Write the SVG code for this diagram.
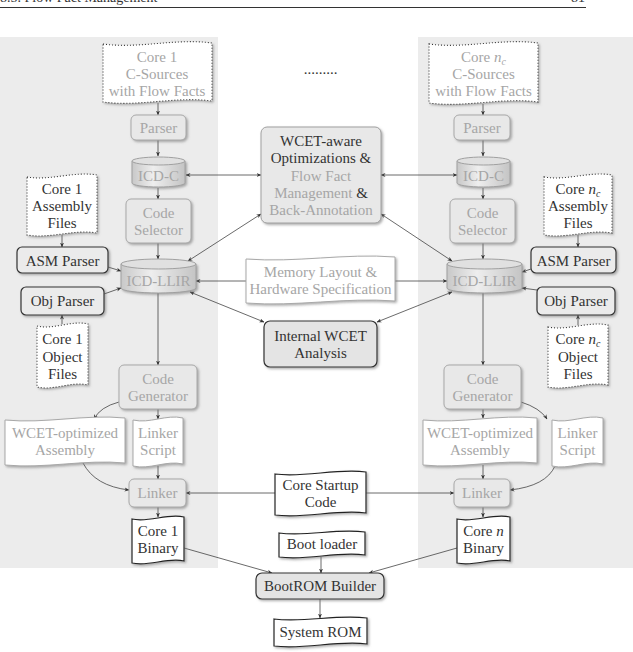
<svg xmlns="http://www.w3.org/2000/svg" width="633" height="652" viewBox="0 0 633 652">
<style>
text{font-family:"Liberation Serif","Times New Roman",serif;font-size:15px;text-anchor:middle}
.g{fill:#a6a6a6}
.d{fill:#333}
.panel{fill:#ececec}
.tool{fill:#e8e8e8;stroke:#a8a8a8;stroke-width:1;filter:url(#sh)}
.dtool{fill:#ebebeb;stroke:#333;stroke-width:1.2;filter:url(#sh)}
.ftool{fill:#e4e4e4;stroke:#333;stroke-width:1.2;filter:url(#sh)}
.cyl{fill:url(#cg);stroke:#a0a0a0;stroke-width:1;filter:url(#sh)}
.cyltop{fill:#e0e0e0;stroke:#a0a0a0;stroke-width:1}
.docdot{fill:#fff;stroke:#333;stroke-width:1.1;stroke-dasharray:1 2;filter:url(#sh)}
.docg{fill:#fff;stroke:#a8a8a8;stroke-width:1;filter:url(#sh)}
.docb{fill:#fff;stroke:#222;stroke-width:1.2;filter:url(#sh)}
.c{fill:none;stroke:#444;stroke-width:0.8;marker-end:url(#ah)}
.cc{fill:none;stroke:#444;stroke-width:0.8;marker-end:url(#ah);marker-start:url(#ah)}
</style>
<defs>
<filter id="sh" x="-20%" y="-20%" width="140%" height="140%">
<feDropShadow dx="1.5" dy="1.5" stdDeviation="1" flood-color="#777" flood-opacity="0.6"/>
</filter>
<linearGradient id="cg" x1="0" y1="0" x2="1" y2="0">
<stop offset="0" stop-color="#c8c8c8"/>
<stop offset="0.4" stop-color="#eeeeee"/>
<stop offset="1" stop-color="#c4c4c4"/>
</linearGradient>
<marker id="ah" viewBox="0 0 10 10" refX="9" refY="5" markerWidth="5" markerHeight="5" markerUnits="userSpaceOnUse" orient="auto-start-reverse">
<path d="M0,1 L10,5 L0,9 L3,5 z" fill="#333"/>
</marker>
</defs>

<!-- header -->
<g id="header">
<text x="0" y="2" style="text-anchor:start;font-size:14px" class="d">8.5. Flow Fact Management</text>
<text x="585" y="2" style="text-anchor:end;font-size:14px" class="d">81</text>
<line x1="0" y1="7.5" x2="586" y2="7.5" stroke="#333" stroke-width="1"/>
</g>

<!-- panels -->
<rect class="panel" x="0" y="37" width="218" height="531"/>
<rect class="panel" x="418" y="37" width="215" height="531"/>

<!-- connectors -->
<g id="connectors">
<line class="c" x1="158" y1="103" x2="158" y2="115"/>
<line class="c" x1="158" y1="140" x2="158" y2="156"/>
<line class="c" x1="158" y1="188" x2="158" y2="199"/>
<line class="c" x1="158" y1="243" x2="158" y2="259"/>
<line class="c" x1="62" y1="235" x2="62" y2="247"/>
<line class="c" x1="62" y1="324" x2="62" y2="315"/>
<line class="c" x1="108" y1="267" x2="121" y2="271"/>
<line class="c" x1="104" y1="294" x2="121" y2="288"/>
<line class="cc" x1="186" y1="175" x2="261" y2="175"/>
<line class="cc" x1="188" y1="261" x2="261" y2="214"/>
<line class="c" x1="246" y1="281" x2="196" y2="281"/>
<line class="cc" x1="190" y1="292" x2="264" y2="322"/>
<line class="c" x1="158" y1="293" x2="158" y2="365"/>
<path class="c" d="M119,402 Q100,407 94,419"/>
<line class="c" x1="158" y1="409" x2="158" y2="419"/>
<path class="c" d="M83,463 Q95,486 129,490"/>
<line class="c" x1="158" y1="466" x2="158" y2="479"/>
<line class="c" x1="275" y1="493" x2="186" y2="493"/>
<line class="c" x1="158" y1="507" x2="158" y2="517"/>
<line class="c" x1="184" y1="548" x2="272" y2="573"/>

<line class="c" x1="483" y1="104" x2="483" y2="115"/>
<line class="c" x1="483" y1="140" x2="483" y2="156"/>
<line class="c" x1="483" y1="188" x2="483" y2="199"/>
<line class="c" x1="483" y1="243" x2="483" y2="259"/>
<line class="c" x1="578" y1="235" x2="578" y2="247"/>
<line class="c" x1="578" y1="325" x2="578" y2="315"/>
<line class="c" x1="531" y1="269" x2="522" y2="272"/>
<line class="c" x1="537" y1="290" x2="522" y2="288"/>
<line class="cc" x1="381" y1="175" x2="457" y2="175"/>
<line class="cc" x1="452" y1="261" x2="381" y2="214"/>
<line class="c" x1="395" y1="281" x2="447" y2="281"/>
<line class="cc" x1="452" y1="292" x2="377" y2="322"/>
<line class="c" x1="483" y1="293" x2="483" y2="365"/>
<line class="c" x1="483" y1="409" x2="483" y2="418"/>
<path class="c" d="M521,402 Q540,408 547,419"/>
<line class="c" x1="483" y1="465" x2="483" y2="479"/>
<path class="c" d="M555,466 Q546,486 510,490"/>
<line class="c" x1="366" y1="493" x2="454" y2="493"/>
<line class="c" x1="483" y1="507" x2="483" y2="517"/>
<line class="c" x1="457" y1="548" x2="369" y2="573"/>

<line class="c" x1="321" y1="557" x2="321" y2="573"/>
<line class="c" x1="320" y1="599" x2="320" y2="618"/>
</g>

<!-- LEFT COLUMN -->
<g id="src1">
<path class="docdot" d="M103,44 C139,49 176,38 212,43 L212,101 C176,96 139,107 103,102 Z"/>
<text class="g" x="157" y="62">Core 1</text>
<text class="g" x="157" y="79">C-Sources</text>
<text class="g" x="157" y="96">with Flow Facts</text>
</g>
<g id="parser1">
<rect class="tool" x="131" y="115" width="55" height="25" rx="5"/>
<text class="g" x="158.5" y="133">Parser</text>
</g>
<g id="icdc1">
<path class="cyl" d="M132,161 L132,183 A26.5,4 0 0 0 185,183 L185,161 Z"/>
<ellipse class="cyltop" cx="158.5" cy="161" rx="26.5" ry="4"/>
<text class="g" x="158.5" y="181">ICD-C</text>
</g>
<g id="cs1">
<rect class="tool" x="126" y="199" width="65" height="44" rx="5"/>
<text class="g" x="158.5" y="218">Code</text>
<text class="g" x="158.5" y="235">Selector</text>
</g>
<g id="asmfiles1">
<path class="docdot" d="M27,177 C50,181 74,171 97,175 L97,233 C74,229 50,239 27,235 Z"/>
<text class="d" x="62" y="194">Core 1</text>
<text class="d" x="62" y="211">Assembly</text>
<text class="d" x="62" y="228">Files</text>
</g>
<g id="asmp1">
<rect class="dtool" x="17" y="247" width="91" height="26" rx="5"/>
<text class="d" x="62.5" y="266">ASM Parser</text>
</g>
<g id="llir1">
<path class="cyl" d="M121,264 L121,288 A37.5,5 0 0 0 196,288 L196,264 Z"/>
<ellipse class="cyltop" cx="158.5" cy="264" rx="37.5" ry="5"/>
<text class="g" x="158.5" y="286">ICD-LLIR</text>
</g>
<g id="objp1">
<rect class="dtool" x="21" y="287" width="83" height="28" rx="5"/>
<text class="d" x="62.5" y="306">Obj Parser</text>
</g>
<g id="objfiles1">
<path class="docdot" d="M37,326 C54,330 71,320 88,324 L88,385 C71,381 54,391 37,387 Z"/>
<text class="d" x="62.5" y="344">Core 1</text>
<text class="d" x="62.5" y="362">Object</text>
<text class="d" x="62.5" y="379">Files</text>
</g>
<g id="cg1">
<rect class="tool" x="119" y="365" width="78" height="44" rx="5"/>
<text class="g" x="158" y="384">Code</text>
<text class="g" x="158" y="401">Generator</text>
</g>
<g id="wopt1">
<path class="docg" d="M5,420 C45,424 85,414 125,418 L125,463 C85,459 45,469 5,465 Z"/>
<text class="g" x="65" y="438">WCET-optimized</text>
<text class="g" x="65" y="455">Assembly</text>
</g>
<g id="ls1">
<path class="docg" d="M133,420 C150,424 166,414 183,418 L183,464 C166,460 150,470 133,466 Z"/>
<text class="g" x="158" y="438">Linker</text>
<text class="g" x="158" y="455">Script</text>
</g>
<g id="linker1">
<rect class="tool" x="129" y="479" width="57" height="28" rx="5"/>
<text class="g" x="157.5" y="498">Linker</text>
</g>
<g id="bin1">
<path class="docb" d="M132,519 C149,523 167,513 184,517 L184,561 C167,557 149,567 132,563 Z"/>
<text class="d" x="158" y="536">Core 1</text>
<text class="d" x="158" y="553">Binary</text>
</g>

<!-- RIGHT COLUMN -->
<g id="srcN">
<path class="docdot" d="M429,44 C465,49 502,38 538,43 L538,102 C502,97 465,108 429,103 Z"/>
<text class="g" x="483.5" y="62">Core <tspan font-style="italic">n</tspan><tspan font-style="italic" font-size="10" dy="3">c</tspan></text>
<text class="g" x="483.5" y="79">C-Sources</text>
<text class="g" x="483.5" y="96">with Flow Facts</text>
</g>
<g id="parserN">
<rect class="tool" x="454" y="115" width="56" height="25" rx="5"/>
<text class="g" x="482" y="133">Parser</text>
</g>
<g id="icdcN">
<path class="cyl" d="M457,161 L457,183 A26.5,4 0 0 0 510,183 L510,161 Z"/>
<ellipse class="cyltop" cx="483.5" cy="161" rx="26.5" ry="4"/>
<text class="g" x="483.5" y="181">ICD-C</text>
</g>
<g id="csN">
<rect class="tool" x="450" y="199" width="65" height="44" rx="5"/>
<text class="g" x="482.5" y="218">Code</text>
<text class="g" x="482.5" y="235">Selector</text>
</g>
<g id="asmfilesN">
<path class="docdot" d="M544,177 C567,181 589,171 612,175 L612,233 C589,229 567,239 544,235 Z"/>
<text class="d" x="578" y="194">Core <tspan font-style="italic">n</tspan><tspan font-style="italic" font-size="10" dy="3">c</tspan></text>
<text class="d" x="578" y="211">Assembly</text>
<text class="d" x="578" y="228">Files</text>
</g>
<g id="asmpN">
<rect class="dtool" x="531" y="247" width="85" height="26" rx="5"/>
<text class="d" x="573.5" y="266">ASM Parser</text>
</g>
<g id="llirN">
<path class="cyl" d="M447,264 L447,288 A37.5,5 0 0 0 522,288 L522,264 Z"/>
<ellipse class="cyltop" cx="484.5" cy="264" rx="37.5" ry="5"/>
<text class="g" x="484.5" y="286">ICD-LLIR</text>
</g>
<g id="objpN">
<rect class="dtool" x="537" y="287" width="78" height="28" rx="5"/>
<text class="d" x="576" y="306">Obj Parser</text>
</g>
<g id="objfilesN">
<path class="docdot" d="M548,327 C568,331 588,321 608,325 L608,385 C588,381 568,391 548,387 Z"/>
<text class="d" x="578" y="344">Core <tspan font-style="italic">n</tspan><tspan font-style="italic" font-size="10" dy="3">c</tspan></text>
<text class="d" x="578" y="362">Object</text>
<text class="d" x="578" y="379">Files</text>
</g>
<g id="cgN">
<rect class="tool" x="444" y="365" width="77" height="44" rx="5"/>
<text class="g" x="482.5" y="384">Code</text>
<text class="g" x="482.5" y="401">Generator</text>
</g>
<g id="woptN">
<path class="docg" d="M423,420 C461,424 499,414 537,418 L537,463 C499,459 461,469 423,465 Z"/>
<text class="g" x="480" y="438">WCET-optimized</text>
<text class="g" x="480" y="455">Assembly</text>
</g>
<g id="lsN">
<path class="docg" d="M552,420 C569,424 586,414 603,418 L603,464 C586,460 569,470 552,466 Z"/>
<text class="g" x="577.5" y="438">Linker</text>
<text class="g" x="577.5" y="455">Script</text>
</g>
<g id="linkerN">
<rect class="tool" x="454" y="479" width="56" height="28" rx="5"/>
<text class="g" x="482" y="498">Linker</text>
</g>
<g id="binN">
<path class="docb" d="M457,519 C475,523 492,513 510,517 L510,561 C492,557 475,567 457,563 Z"/>
<text class="d" x="483.5" y="536">Core <tspan font-style="italic">n</tspan></text>
<text class="d" x="483.5" y="553">Binary</text>
</g>

<!-- CENTER -->
<g id="dots">
<text class="d" x="320.5" y="74">.........</text>
</g>
<g id="wcet">
<rect x="261" y="127" width="120" height="96" rx="6" fill="#e8e8e8" stroke="#a0a0a0" stroke-width="1" filter="url(#sh)"/>
<text class="d" x="321" y="146">WCET-aware</text>
<text class="d" x="321" y="163">Optimizations &amp;</text>
<text class="g" x="321" y="181">Flow Fact</text>
<text x="321" y="198"><tspan class="g">Management</tspan><tspan class="d"> &amp;</tspan></text>
<text class="g" x="321" y="215">Back-Annotation</text>
</g>
<g id="mem">
<path class="docg" d="M246,259 C296,263 345,253 395,257 L395,301 C345,297 296,307 246,303 Z"/>
<text class="g" x="320.5" y="277">Memory Layout &amp;</text>
<text class="g" x="320.5" y="294">Hardware Specification</text>
</g>
<g id="iwa">
<rect class="ftool" x="264" y="321" width="113" height="46" rx="6"/>
<text class="d" x="320.5" y="341">Internal WCET</text>
<text class="d" x="320.5" y="358">Analysis</text>
</g>
<g id="startup">
<path class="docb" d="M275,474 C305,478 336,468 366,472 L366,513 C336,509 305,519 275,515 Z"/>
<text class="d" x="320.5" y="490">Core Startup</text>
<text class="d" x="320.5" y="507">Code</text>
</g>
<g id="boot">
<path class="docb" d="M279,533 C308,537 336,528 365,532 L365,555 C336,551 308,561 279,557 Z"/>
<text class="d" x="322" y="549">Boot loader</text>
</g>
<g id="bootrom">
<rect class="ftool" x="256" y="573" width="128" height="26" rx="6"/>
<text class="d" x="320" y="591">BootROM Builder</text>
</g>
<g id="sysrom">
<path class="docb" d="M274,619 C305,623 336,614 367,618 L367,644 C336,640 305,650 274,646 Z"/>
<text class="d" x="320.5" y="637">System ROM</text>
</g>
</svg>
